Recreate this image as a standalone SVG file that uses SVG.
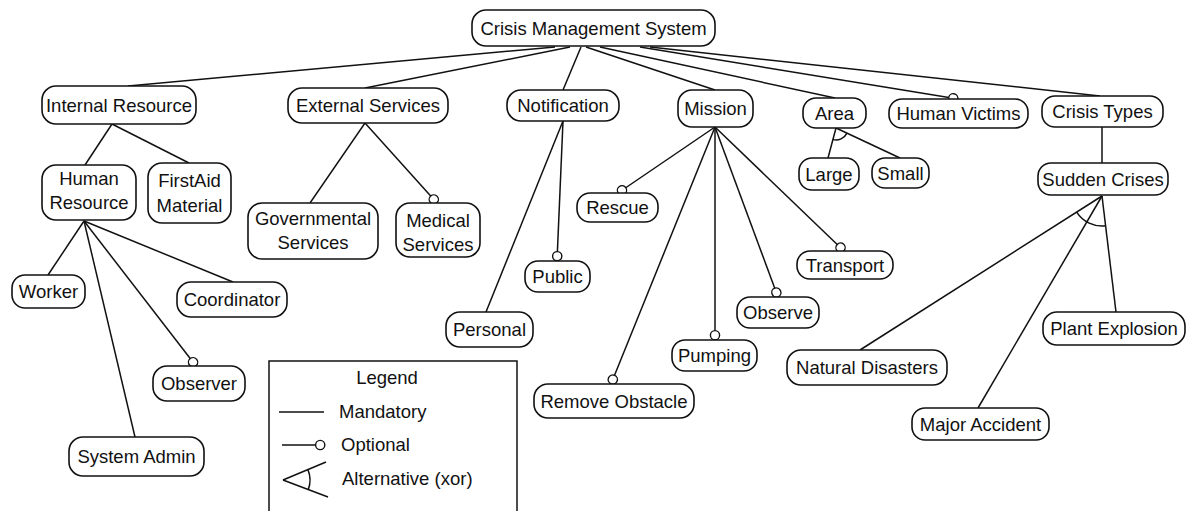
<svg xmlns="http://www.w3.org/2000/svg" width="1187" height="511" viewBox="0 0 1187 511">
  <style>
    .node rect { fill: #ffffff; stroke: #111111; stroke-width: 1.6; }
    .node text, .legend text { font-family: "Liberation Sans", Arial, sans-serif; font-size: 18.5px; fill: #111111; text-anchor: middle; }
    .legend text.l { text-anchor: start; }
    .edge { stroke: #111111; stroke-width: 1.5; fill: none; }
    .opt { marker-end: url(#optional); }
  </style>
  <defs>
    <marker id="optional" viewBox="0 0 12 12" refX="10.8" refY="6" markerWidth="12" markerHeight="12" markerUnits="userSpaceOnUse" orient="auto">
      <circle cx="6" cy="6" r="4.6" fill="#ffffff" stroke="#111111" stroke-width="1.4"/>
    </marker>
  </defs>
  <rect width="1187" height="511" fill="#ffffff"/>

  <!-- feature tree links -->
  <g id="connectors">
    <!-- root -->
    <line class="edge" x1="555" y1="47" x2="128" y2="86"/>
    <line class="edge" x1="570" y1="47" x2="365" y2="88"/>
    <line class="edge" x1="581" y1="47" x2="563" y2="90"/>
    <line class="edge" x1="586" y1="47" x2="715" y2="90"/>
    <line class="edge" x1="600" y1="47" x2="835" y2="98"/>
    <line class="edge opt" x1="640" y1="47" x2="958" y2="99"/>
    <line class="edge" x1="650" y1="47" x2="1100" y2="96"/>
    <!-- Internal Resource -->
    <line class="edge" x1="112" y1="124" x2="85" y2="165"/>
    <line class="edge" x1="112" y1="124" x2="189" y2="163"/>
    <!-- Human Resource -->
    <line class="edge" x1="84" y1="221" x2="48" y2="275"/>
    <line class="edge" x1="84" y1="221" x2="135" y2="437"/>
    <line class="edge opt" x1="84" y1="221" x2="196" y2="366"/>
    <line class="edge" x1="84" y1="221" x2="233" y2="282"/>
    <!-- External Services -->
    <line class="edge" x1="365" y1="123" x2="310" y2="203"/>
    <line class="edge opt" x1="365" y1="123" x2="437" y2="203"/>
    <!-- Notification -->
    <line class="edge" x1="563" y1="121" x2="486" y2="312"/>
    <line class="edge opt" x1="563" y1="121" x2="557" y2="261"/>
    <!-- Mission -->
    <line class="edge opt" x1="715" y1="127" x2="618" y2="193"/>
    <line class="edge opt" x1="715" y1="127" x2="611" y2="384"/>
    <line class="edge opt" x1="715" y1="127" x2="715" y2="340"/>
    <line class="edge opt" x1="715" y1="127" x2="778" y2="297"/>
    <line class="edge opt" x1="715" y1="127" x2="844" y2="251"/>
    <!-- Area -->
    <line class="edge" x1="836" y1="128" x2="828" y2="158"/>
    <line class="edge" x1="836" y1="128" x2="900" y2="158"/>
    <path class="edge" d="M832.9,139.6 A12,12 0 0 0 846.9,133.1"/>
    <!-- Crisis Types -->
    <line class="edge" x1="1102" y1="127" x2="1102" y2="163"/>
    <!-- Sudden Crises -->
    <line class="edge" x1="1102" y1="196" x2="860" y2="350"/>
    <line class="edge" x1="1102" y1="196" x2="978" y2="408"/>
    <line class="edge" x1="1102" y1="196" x2="1116" y2="312"/>
    <path class="edge" d="M1076.7,212.1 A30,30 0 0 0 1105.6,225.8"/>
  </g>

  <g id="n-root" class="node"><rect x="472" y="10" width="243" height="36" rx="14"/><text x="593.5" y="34.5">Crisis Management System</text></g>
  <g id="n-internal" class="node"><rect x="42" y="86" width="154" height="38" rx="14"/><text x="119" y="111.5">Internal Resource</text></g>
  <g id="n-external" class="node"><rect x="288" y="88" width="160" height="35" rx="14"/><text x="368" y="112">External Services</text></g>
  <g id="n-notification" class="node"><rect x="507" y="90" width="112" height="31" rx="14"/><text x="563" y="112">Notification</text></g>
  <g id="n-mission" class="node"><rect x="678" y="90" width="75" height="37" rx="14"/><text x="715.5" y="115">Mission</text></g>
  <g id="n-area" class="node"><rect x="803" y="98" width="63" height="30" rx="13"/><text x="834.5" y="119.5">Area</text></g>
  <g id="n-victims" class="node"><rect x="889" y="99" width="139" height="29" rx="13"/><text x="958.5" y="120">Human Victims</text></g>
  <g id="n-crisis-types" class="node"><rect x="1042" y="96" width="121" height="31" rx="13"/><text x="1102.5" y="118">Crisis Types</text></g>

  <g id="n-human-resource" class="node"><rect x="42" y="165" width="94" height="55" rx="14"/><text x="89" y="185">Human</text><text x="89" y="209">Resource</text></g>
  <g id="n-firstaid" class="node"><rect x="148" y="163" width="83" height="60" rx="14"/><text x="189.5" y="187">FirstAid</text><text x="189.5" y="212">Material</text></g>
  <g id="n-worker" class="node"><rect x="12" y="275" width="73" height="33" rx="13"/><text x="48.5" y="298">Worker</text></g>
  <g id="n-coordinator" class="node"><rect x="177" y="282" width="110" height="35" rx="14"/><text x="232" y="306">Coordinator</text></g>
  <g id="n-observer" class="node"><rect x="153" y="366" width="92" height="35" rx="14"/><text x="199" y="390">Observer</text></g>
  <g id="n-sysadmin" class="node"><rect x="69" y="437" width="135" height="39" rx="14"/><text x="136.5" y="463">System Admin</text></g>

  <g id="n-governmental" class="node"><rect x="248" y="203" width="130" height="56" rx="14"/><text x="313" y="225">Governmental</text><text x="313" y="249">Services</text></g>
  <g id="n-medical" class="node"><rect x="396" y="203" width="84" height="54" rx="14"/><text x="438" y="227">Medical</text><text x="438" y="251">Services</text></g>

  <g id="n-personal" class="node"><rect x="446" y="312" width="87" height="35" rx="14"/><text x="489.5" y="336">Personal</text></g>
  <g id="n-public" class="node"><rect x="525" y="261" width="65" height="31" rx="13"/><text x="557.5" y="283">Public</text></g>

  <g id="n-rescue" class="node"><rect x="577" y="193" width="81" height="29" rx="13"/><text x="617.5" y="214">Rescue</text></g>
  <g id="n-remove" class="node"><rect x="534" y="384" width="160" height="34" rx="14"/><text x="614" y="407.5">Remove Obstacle</text></g>
  <g id="n-pumping" class="node"><rect x="672" y="340" width="85" height="31" rx="13"/><text x="714.5" y="362">Pumping</text></g>
  <g id="n-observe" class="node"><rect x="737" y="297" width="82" height="31" rx="13"/><text x="778" y="319">Observe</text></g>
  <g id="n-transport" class="node"><rect x="797" y="251" width="96" height="28" rx="13"/><text x="845" y="271.5">Transport</text></g>

  <g id="n-large" class="node"><rect x="799" y="158" width="60" height="32" rx="13"/><text x="829" y="180.5">Large</text></g>
  <g id="n-small" class="node"><rect x="872" y="158" width="57" height="30" rx="13"/><text x="900.5" y="179.5">Small</text></g>

  <g id="n-sudden" class="node"><rect x="1038" y="163" width="130" height="32" rx="13"/><text x="1103" y="185.5">Sudden Crises</text></g>
  <g id="n-natural" class="node"><rect x="787" y="350" width="160" height="35" rx="14"/><text x="867" y="374">Natural Disasters</text></g>
  <g id="n-major" class="node"><rect x="912" y="408" width="137" height="32" rx="13"/><text x="980.5" y="430.5">Major Accident</text></g>
  <g id="n-plant" class="node"><rect x="1043" y="312" width="142" height="33" rx="14"/><text x="1114" y="335">Plant Explosion</text></g>

  <!-- legend box -->
  <g id="legend" class="legend">
    <rect x="269" y="361" width="248" height="160" fill="#ffffff" stroke="#111111" stroke-width="1.5"/>
    <text x="387" y="384">Legend</text>
    <line class="edge" x1="279" y1="412" x2="324" y2="412"/>
    <text class="l" x="339" y="418">Mandatory</text>
    <line class="edge opt" x1="282" y1="445" x2="325" y2="445"/>
    <text class="l" x="341" y="451">Optional</text>
    <line class="edge" x1="283" y1="480" x2="326" y2="462"/>
    <line class="edge" x1="283" y1="480" x2="328" y2="497"/>
    <path class="edge" d="M307.9,469.6 A27,27 0 0 1 308.3,489.5"/>
    <text class="l" x="342" y="485">Alternative (xor)</text>
  </g>
</svg>
